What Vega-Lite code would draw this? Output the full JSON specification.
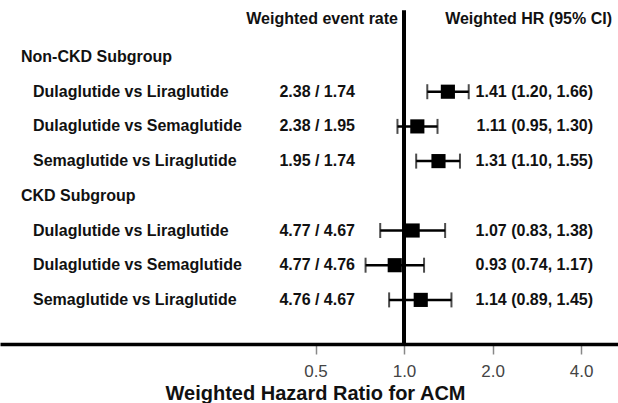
{
  "$schema": "https://vega.github.io/schema/vega-lite/v6.json",
  "width": 618,
  "height": 344,
  "autosize": "none",
  "padding": {"left": 0, "top": 0, "right": 0, "bottom": 59},
  "background": "white",
  "config": {"view": {"stroke": null}, "font": "Liberation Sans"},
  "data": {
    "values": [
      {"row": 1, "label": "Non-CKD Subgroup", "level": "group"},
      {"row": 2, "label": "Dulaglutide vs Liraglutide", "level": "item", "rate": "2.38 / 1.74", "hr": 1.41, "lo": 1.20, "hi": 1.66, "hrText": "1.41 (1.20, 1.66)"},
      {"row": 3, "label": "Dulaglutide vs Semaglutide", "level": "item", "rate": "2.38 / 1.95", "hr": 1.11, "lo": 0.95, "hi": 1.30, "hrText": "1.11 (0.95, 1.30)"},
      {"row": 4, "label": "Semaglutide vs Liraglutide", "level": "item", "rate": "1.95 / 1.74", "hr": 1.31, "lo": 1.10, "hi": 1.55, "hrText": "1.31 (1.10, 1.55)"},
      {"row": 5, "label": "CKD Subgroup", "level": "group"},
      {"row": 6, "label": "Dulaglutide vs Liraglutide", "level": "item", "rate": "4.77 / 4.67", "hr": 1.07, "lo": 0.83, "hi": 1.38, "hrText": "1.07 (0.83, 1.38)"},
      {"row": 7, "label": "Dulaglutide vs Semaglutide", "level": "item", "rate": "4.77 / 4.76", "hr": 0.93, "lo": 0.74, "hi": 1.17, "hrText": "0.93 (0.74, 1.17)"},
      {"row": 8, "label": "Semaglutide vs Liraglutide", "level": "item", "rate": "4.76 / 4.67", "hr": 1.14, "lo": 0.89, "hi": 1.45, "hrText": "1.14 (0.89, 1.45)"}
    ]
  },
  "layer": [
    {
      "mark": {"type": "rule", "color": "black", "strokeWidth": 4},
      "data": {"values": [{"ref": 1}]},
      "encoding": {
        "x": {
          "datum": 1,
          "type": "quantitative",
          "scale": {"type": "log", "domain": [0.04225, 5.344], "nice": false},
          "axis": {
            "values": [0.5, 1, 2, 4],
            "format": ".1f",
            "title": "Weighted Hazard Ratio for ACM",
            "grid": false,
            "domainColor": "black",
            "domainWidth": 3.5,
            "tickColor": "#888888",
            "tickSize": 10,
            "tickWidth": 1.5,
            "labelFontSize": 17,
            "labelColor": "#444444",
            "labelPadding": 9,
            "labelFont": "Liberation Sans",
            "titleFont": "Liberation Sans",
            "titleFontSize": 20,
            "titleFontWeight": "bold",
            "titleColor": "#111111",
            "titleBaseline": "alphabetic",
            "titleX": 315,
            "titleY": 55,
            "titleAlign": "center"
          }
        },
        "y": {"datum": -0.35, "type": "quantitative", "scale": {"domain": [-0.643, 9.271], "reverse": true, "nice": false, "zero": false}, "axis": null},
        "y2": {"datum": 9.271}
      }
    },
    {
      "transform": [{"filter": "datum.level === 'item'"}],
      "mark": {"type": "rule", "color": "black", "strokeWidth": 2.5},
      "encoding": {
        "x": {"field": "lo", "type": "quantitative", "scale": {"type": "log", "domain": [0.04225, 5.344], "nice": false}},
        "x2": {"field": "hi"},
        "y": {"field": "row", "type": "quantitative", "scale": {"domain": [-0.643, 9.271], "reverse": true, "nice": false, "zero": false}, "axis": null}
      }
    },
    {
      "transform": [{"filter": "datum.level === 'item'"}],
      "mark": {"type": "tick", "color": "black", "orient": "vertical", "size": 15, "thickness": 2},
      "encoding": {
        "x": {"field": "lo", "type": "quantitative", "scale": {"type": "log", "domain": [0.04225, 5.344], "nice": false}},
        "y": {"field": "row", "type": "quantitative", "scale": {"domain": [-0.643, 9.271], "reverse": true, "nice": false, "zero": false}, "axis": null}
      }
    },
    {
      "transform": [{"filter": "datum.level === 'item'"}],
      "mark": {"type": "tick", "color": "black", "orient": "vertical", "size": 15, "thickness": 2},
      "encoding": {
        "x": {"field": "hi", "type": "quantitative", "scale": {"type": "log", "domain": [0.04225, 5.344], "nice": false}},
        "y": {"field": "row", "type": "quantitative", "scale": {"domain": [-0.643, 9.271], "reverse": true, "nice": false, "zero": false}, "axis": null}
      }
    },
    {
      "transform": [{"filter": "datum.level === 'item'"}],
      "mark": {"type": "point", "shape": "square", "filled": true, "color": "black", "opacity": 1, "size": 200},
      "encoding": {
        "x": {"field": "hr", "type": "quantitative", "scale": {"type": "log", "domain": [0.04225, 5.344], "nice": false}},
        "y": {"field": "row", "type": "quantitative", "scale": {"domain": [-0.643, 9.271], "reverse": true, "nice": false, "zero": false}, "axis": null}
      }
    },
    {
      "transform": [{"filter": "datum.level === 'group'"}],
      "mark": {"type": "text", "align": "left", "baseline": "middle", "fontSize": 16, "fontWeight": "bold", "color": "#111111"},
      "encoding": {
        "x": {"datum": 0.04979, "type": "quantitative", "scale": {"type": "log", "domain": [0.04225, 5.344], "nice": false}},
        "y": {"field": "row", "type": "quantitative", "scale": {"domain": [-0.643, 9.271], "reverse": true, "nice": false, "zero": false}, "axis": null},
        "text": {"field": "label"}
      }
    },
    {
      "transform": [{"filter": "datum.level === 'item'"}],
      "mark": {"type": "text", "align": "left", "baseline": "middle", "fontSize": 16, "fontWeight": "bold", "color": "#111111"},
      "encoding": {
        "x": {"datum": 0.05471, "type": "quantitative", "scale": {"type": "log", "domain": [0.04225, 5.344], "nice": false}},
        "y": {"field": "row", "type": "quantitative", "scale": {"domain": [-0.643, 9.271], "reverse": true, "nice": false, "zero": false}, "axis": null},
        "text": {"field": "label"}
      }
    },
    {
      "transform": [{"filter": "datum.level === 'item'"}],
      "mark": {"type": "text", "align": "right", "baseline": "middle", "fontSize": 16, "fontWeight": "bold", "color": "#111111"},
      "encoding": {
        "x": {"datum": 0.6813, "type": "quantitative", "scale": {"type": "log", "domain": [0.04225, 5.344], "nice": false}},
        "y": {"field": "row", "type": "quantitative", "scale": {"domain": [-0.643, 9.271], "reverse": true, "nice": false, "zero": false}, "axis": null},
        "text": {"field": "rate"}
      }
    },
    {
      "transform": [{"filter": "datum.level === 'item'"}],
      "mark": {"type": "text", "align": "right", "baseline": "middle", "fontSize": 16, "fontWeight": "bold", "color": "#111111"},
      "encoding": {
        "x": {"datum": 4.394, "type": "quantitative", "scale": {"type": "log", "domain": [0.04225, 5.344], "nice": false}},
        "y": {"field": "row", "type": "quantitative", "scale": {"domain": [-0.643, 9.271], "reverse": true, "nice": false, "zero": false}, "axis": null},
        "text": {"field": "hrText"}
      }
    },
    {
      "data": {"values": [{"header": "Weighted event rate"}]},
      "mark": {"type": "text", "align": "right", "baseline": "middle", "fontSize": 16, "fontWeight": "bold", "color": "#111111"},
      "encoding": {
        "x": {"datum": 0.9541, "type": "quantitative", "scale": {"type": "log", "domain": [0.04225, 5.344], "nice": false}},
        "y": {"datum": -0.1, "type": "quantitative", "scale": {"domain": [-0.643, 9.271], "reverse": true, "nice": false, "zero": false}, "axis": null},
        "text": {"field": "header"}
      }
    },
    {
      "data": {"values": [{"header": "Weighted HR (95% CI)"}]},
      "mark": {"type": "text", "align": "right", "baseline": "middle", "fontSize": 16, "fontWeight": "bold", "color": "#111111"},
      "encoding": {
        "x": {"datum": 5.098, "type": "quantitative", "scale": {"type": "log", "domain": [0.04225, 5.344], "nice": false}},
        "y": {"datum": -0.1, "type": "quantitative", "scale": {"domain": [-0.643, 9.271], "reverse": true, "nice": false, "zero": false}, "axis": null},
        "text": {"field": "header"}
      }
    }
  ]
}
